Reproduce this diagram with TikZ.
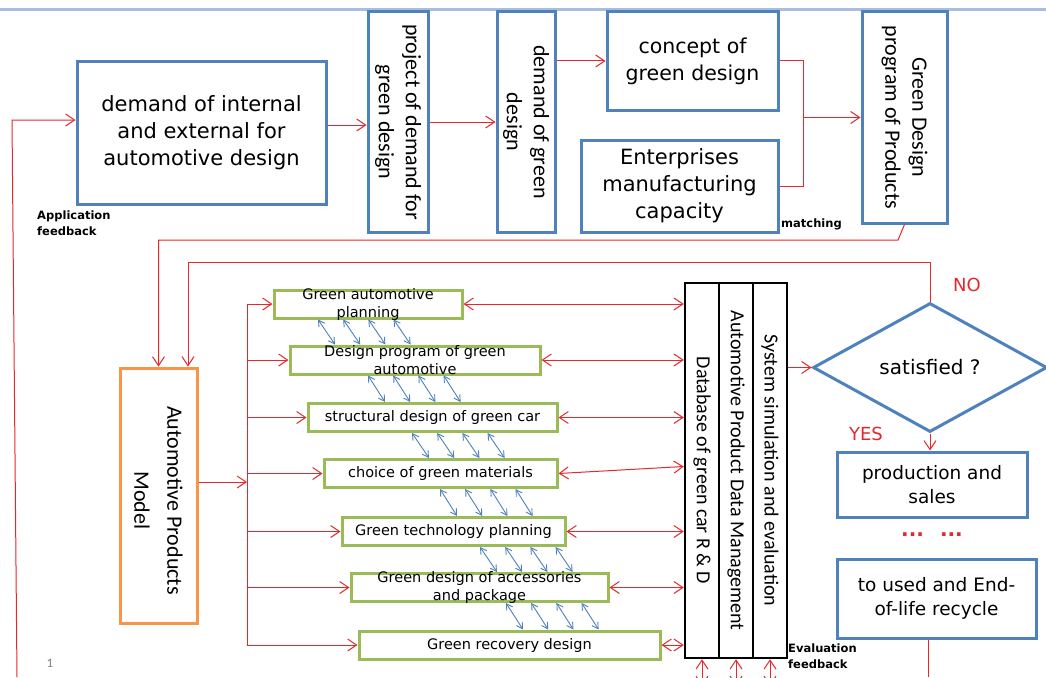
\documentclass[tikz,border=0pt]{standalone}
\usepackage{fontspec}
\setmainfont{Carlito}
\newfontfamily\tahoma{DejaVu Sans}
\usetikzlibrary{arrows.meta,shapes.geometric}

\definecolor{boxblue}{RGB}{79,129,189}
\definecolor{boxgreen}{RGB}{155,187,89}
\definecolor{boxorange}{RGB}{247,150,70}
\definecolor{linered}{RGB}{228,40,44}
\definecolor{barblue}{RGB}{168,190,222}

\begin{document}
\begin{tikzpicture}[x=1pt, y=-1pt,
    box/.style={draw=#1, line width=3pt, fill=white, inner sep=0pt},
    gbox/.style={draw=boxgreen, line width=3pt, fill=white, inner sep=0pt, minimum height=28,
                 font=\tahoma\fontsize{14.5}{18}\selectfont},
    gtxt/.style={font=\tahoma\fontsize{14.5}{18}\selectfont, align=center, inner sep=0pt},
    dbcol/.style={draw=black, line width=2.5pt, fill=white, inner sep=0pt, minimum width=34, minimum height=375},
    vtxt/.style={rotate=-90, align=center, inner sep=0pt, font=\fontsize{22}{27}\selectfont},
    htxt/.style={font=\tahoma\fontsize{21}{27}\selectfont, align=center},
    note/.style={font=\tahoma\bfseries\fontsize{11.5}{16}\selectfont, align=left, inner sep=0pt, text=black},
    redtxt/.style={font=\tahoma\fontsize{18}{20}\selectfont, text=linered},
    rline/.style={draw=linered, line width=1pt},
    arr/.style={rline, -{Straight Barb[length=9pt,width=12pt]}},
    darr/.style={rline, {Straight Barb[length=9pt,width=12pt]}-{Straight Barb[length=9pt,width=12pt]}},
    barr/.style={draw=boxblue, line width=0.9pt, {Straight Barb[length=6pt,width=7pt]}-{Straight Barb[length=6pt,width=7pt]}}
]
\path[use as bounding box, fill=white] (0,0) rectangle (1046,677);
\draw[barblue, line width=3pt] (0,10) -- (1046,10);

% Top row
\node[box=boxblue, htxt, minimum width=249, minimum height=142] (demand) at (201.5,133)
    {demand of internal\\and external for\\automotive design};
\node[box=boxblue, minimum width=60, minimum height=220,
    label={[vtxt]center:{project of demand for\\green design}}] (project) at (398,122) {};
\node[box=boxblue, minimum width=58, minimum height=220,
    label={[vtxt]center:{demand of green\\design}}] (dgreen) at (526,122) {};
\node[box=boxblue, htxt, font=\tahoma\fontsize{20.5}{27}\selectfont, minimum width=171, minimum height=98]
    (concept) at (692.5,61) {concept of\\green design};
\node[box=boxblue, htxt, minimum width=197, minimum height=92] (enterp) at (679.5,186)
    {Enterprises\\manufacturing\\capacity};
\node[box=boxblue, minimum width=85, minimum height=211,
    label={[vtxt]center:{Green Design\\program of Products}}] (gdp) at (904.5,117.5) {};

\coordinate (fbbot) at (17,677);
\coordinate (fbtop) at (12,120);
\coordinate (mj) at (803,117.5);
\draw[arr] (fbbot) -- (fbtop) -- (fbtop -| demand.west);
\draw[arr] ([yshift=8]demand.east) -- ([yshift=8]demand.east -| project.west);
\draw[arr] (project.east) -- (dgreen.west);
\draw[arr] (concept.west -| dgreen.east) -- (concept.west);
\draw[rline] (concept.east) -| (mj) |- (enterp.east);
\draw[arr] (mj) -- (gdp.west);

\node[note, anchor=north west] (appfb) at (37,211) {Application\\feedback};
\node[note, anchor=west] (match) at (781,224) {matching};

% Model and design steps
\node[box=boxorange, minimum width=77, minimum height=255,
    label={[vtxt, font=\fontsize{22}{33}\selectfont, xshift=5pt]center:{Automotive Products\\Model}}] (model) at (158.5,495.5) {};

\node[gbox, minimum width=188, label={[gtxt]center:{Green automotive\\planning}}] (g1) at (368,304) {};
\node[gbox, minimum width=250, label={[gtxt]center:{Design program of green\\automotive}}] (g2) at (415,360) {};
\node[gbox, minimum width=249] (g3) at (432.5,417.5) {structural design of green car};
\node[gbox, minimum width=233] (g4) at (440.5,473.5) {choice of green materials};
\node[gbox, minimum width=223] (g5) at (453.5,531.5) {Green technology planning};
\node[gbox, minimum width=257, label={[gtxt]center:{Green design of accessories\\and package}}] (g6) at (479.5,587.5) {};
\node[gbox, minimum width=301] (g7) at (509.5,645) {Green recovery design};

% Database columns
\node[dbcol, label={[vtxt, font=\fontsize{20}{24}\selectfont]center:{Database of green car R \& D}}] (db1) at (702,470.5) {};
\node[dbcol, label={[vtxt, font=\fontsize{20}{24}\selectfont]center:{Automotive Product Data Management}}] (db2) at (736,470.5) {};
\node[dbcol, label={[vtxt, font=\fontsize{20}{24}\selectfont]center:{System simulation and evaluation}}] (db3) at (770,470.5) {};

% Decision and output
\node[diamond, draw=boxblue, line width=3pt, fill=white, inner sep=0pt, minimum width=234, minimum height=129,
    font=\tahoma\fontsize{20}{24}\selectfont] (sat) at (930,367.5) {satisfied ?};
\node[box=boxblue, htxt, font=\tahoma\fontsize{18.5}{24}\selectfont, minimum width=190, minimum height=65]
    (prod) at (932,484.5) {production and\\sales};
\node[box=boxblue, htxt, font=\tahoma\fontsize{18.5}{24}\selectfont, minimum width=199, minimum height=79]
    (recyc) at (936.5,598.5) {to used and End-\\of-life recycle};

\coordinate (gb) at (898,240);
\coordinate (nb) at (188,262);
\coordinate (bus) at (247,482);
\coordinate (rb) at (928,677);
\coordinate (eb) at (0,686);
\draw[arr] (gdp.south) -- (gb) -| (model.north);
\draw[arr] (sat.north) |- (nb) -- (nb |- model.north);
\draw[arr] (bus -| model.east) -- (bus);
\draw[rline] (g1.west -| bus) -- (g7.west -| bus);
\foreach \i in {1,...,7}
  \draw[arr] (g\i.west -| bus) -- (g\i.west);
\foreach \i in {1,2,3,5,6,7}
  \draw[darr] (g\i.east) -- (g\i.east -| db1.west);
\draw[darr] (g4.east) -- ([yshift=7]g4.east -| db1.west);
\foreach \a/\b/\x in {1/2/318, 2/3/368, 3/4/412, 4/5/440, 5/6/480, 6/7/506}
  \foreach \k in {0,...,3} {
    \pgfmathsetmacro\xs{\x+25.2*\k}
    \draw[barr] (\xs,0 |- g\a.south) -- (\xs+17,0 |- g\b.north);
  }
\draw[arr] (sat.west -| db3.east) -- (sat.west);
\draw[arr] (sat.south) -- (sat.south |- prod.north);
\draw[rline] (rb |- recyc.south) -- (rb);
\foreach \i in {1,2,3}
  \draw[darr] (db\i.south) -- (db\i.south |- eb);

% Labels
\node[redtxt] (no) at (967,285) {NO};
\node[redtxt] (yes) at (866,434) {YES};
\node[redtxt, font=\tahoma\bfseries\fontsize{20}{20}\selectfont] (dots) at (932,535) {...\hspace{16pt}...};
\node[note, anchor=north west] (evalfb) at (788,644) {Evaluation\\feedback};
\node[font=\fontsize{13}{13}\selectfont, text=gray] (pnum) at (50,663) {1};

\end{tikzpicture}
\end{document}
